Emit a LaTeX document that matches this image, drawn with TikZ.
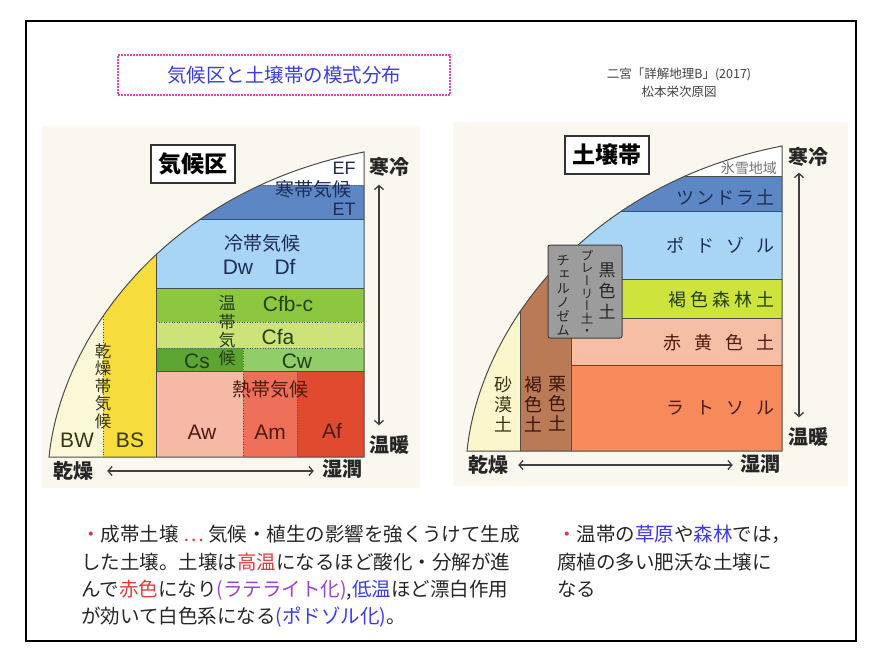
\documentclass[tikz,border=0pt]{standalone}
\usepackage{fontspec}
\setmainfont{Liberation Sans}
\newfontfamily\jp{Noto Sans CJK JP}
\newfontfamily\jpv[RawFeature=+vert]{Noto Sans CJK JP}
\usetikzlibrary{arrows.meta}

\definecolor{paper}{RGB}{250,248,238}
\definecolor{etblue}{RGB}{92,134,196}
\definecolor{dblue}{RGB}{168,212,245}
\definecolor{cfbgreen}{RGB}{141,198,63}
\definecolor{cfagreen}{RGB}{206,226,122}
\definecolor{csgreen}{RGB}{92,165,50}
\definecolor{cwgreen}{RGB}{145,205,105}
\definecolor{awpink}{RGB}{245,185,165}
\definecolor{amred}{RGB}{238,112,88}
\definecolor{afred}{RGB}{224,74,46}
\definecolor{bsyellow}{RGB}{246,220,60}
\definecolor{bwcream}{RGB}{251,248,215}
\definecolor{limeg}{RGB}{206,228,60}
\definecolor{redyel}{RGB}{245,190,165}
\definecolor{latorange}{RGB}{246,138,90}
\definecolor{chestnut}{RGB}{185,122,85}
\definecolor{sandcr}{RGB}{251,246,204}
\definecolor{chernogray}{RGB}{156,156,156}
\definecolor{titleblue}{RGB}{60,60,225}
\definecolor{boxpink}{RGB}{225,70,180}
\definecolor{navytxt}{RGB}{30,45,85}
\definecolor{greentxt}{RGB}{34,64,15}
\definecolor{maroontxt}{RGB}{80,26,18}
\definecolor{olivetxt}{RGB}{58,53,21}
\definecolor{browntxt}{RGB}{60,22,8}
\definecolor{redtxt}{RGB}{224,58,58}
\definecolor{purpletxt}{RGB}{155,63,208}
\definecolor{bluetxt}{RGB}{58,58,240}

\newcommand{\quadarc}{(0,0) .. controls (12,-118) and (115,-266) .. (315,-305) -- (315,0) -- cycle}

\begin{document}
\begin{tikzpicture}[x=1pt, y=-1pt,
  zone/.style={draw=black!70, line width=0.8pt},
  subzone/.style={draw=black!65, line width=1pt, dash pattern=on 1pt off 1.6pt},
  quadline/.style={draw=black!70, line width=1pt},
  lbl/.style={inner sep=0pt, font=\fontsize{21}{21}\selectfont},
  jlbl/.style={inner sep=0pt, font=\jp\fontsize{19}{19}\selectfont},
  vlbl/.style={inner sep=0pt, align=center},
  axislbl/.style={inner sep=0pt, text=black!85, font=\jp\bfseries\fontsize{20}{20}\selectfont},
  headbox/.style={draw=black!80, line width=1.6pt, fill=white, inner sep=0pt,
    minimum width=84pt, minimum height=38pt, font=\jp\bfseries\fontsize{23}{23}\selectfont},
  soillbl/.style={inner sep=0pt, anchor=east, font=\jp\fontsize{18}{18}\selectfont},
  biarrow/.style={{Straight Barb[length=4pt,width=9pt]}-{Straight Barb[length=4pt,width=9pt]},
    draw=black!75, line width=1.3pt},
  para/.style={inner sep=0pt, anchor=north west, align=left, text=black!85,
    font=\jp\fontsize{19.5}{27.4}\selectfont}
]
  \useasboundingbox (0,0) rectangle (884,670);
  % moldura
  \draw[line width=2pt] (26,21) rectangle (856,641);
  \fill[paper] (42,126) rectangle (420,488);
  \fill[paper] (453,122) rectangle (848,486);
  % titulo
  \node[draw=boxpink, line width=1.6pt, dash pattern=on 1.6pt off 1.4pt,
    minimum width=332pt, minimum height=40pt, inner sep=0pt, text=titleblue,
    font=\jp\fontsize{19.5}{19.5}\selectfont] (title) at (284,75) {気候区と土壌帯の模式分布};
  \node[align=center, inner sep=0pt, text=black!75,
    font=\jp\fontsize{12.5}{18}\selectfont] (source) at (679,83) {二宮「詳解地理B」(2017)\\松本栄次原図};

  % climas
  \begin{scope}
    \clip[shift={(49,457)}] \quadarc;
    \fill[bwcream] (40,140) rectangle (103,460);
    \fill[bsyellow] (103,140) rectangle (156,460);
    \fill[white] (156,140) rectangle (370,185);
    \fill[etblue] (156,185) rectangle (370,219);
    \fill[dblue] (156,219) rectangle (370,288);
    \fill[cfbgreen] (156,288) rectangle (370,322);
    \fill[cfagreen] (156,322) rectangle (370,348);
    \fill[csgreen] (156,348) rectangle (243,371);
    \fill[cwgreen] (243,348) rectangle (370,371);
    \fill[awpink] (156,371) rectangle (243,460);
    \fill[amred] (243,371) rectangle (297,460);
    \fill[afred] (297,371) rectangle (370,460);
    \draw[subzone] (103,280) -- (103,457);
    \draw[zone] (156,240) -- (156,457);
    \draw[subzone] (156,185) -- (364,185);
    \draw[zone] (156,219) -- (364,219);
    \draw[zone] (156,288) -- (364,288);
    \draw[subzone] (156,322) -- (364,322);
    \draw[subzone] (156,348) -- (364,348);
    \draw[subzone] (243,348) -- (243,457);
    \draw[subzone] (297,371) -- (297,457);
    \draw[zone] (156,371) -- (364,371);
  \end{scope}
  \draw[quadline, shift={(49,457)}] \quadarc;

  \node[headbox] (climhead) at (193,164) {気候区};
  \node[lbl, text=navytxt, font=\fontsize{18}{18}\selectfont] (ef) at (344,168) {EF};
  \node[jlbl, text=navytxt] (polar) at (313,189) {寒帯気候};
  \node[lbl, text=navytxt, font=\fontsize{18}{18}\selectfont] (et) at (344,209) {ET};
  \node[jlbl, text=navytxt] (subarctic) at (262,243) {冷帯気候};
  \node[lbl, text=navytxt] (dw) at (238,267) {Dw};
  \node[lbl, text=navytxt] (df) at (285,267) {Df};
  \node[lbl, text=greentxt] (cfbc) at (288,304) {Cfb-c};
  \node[lbl, text=greentxt] (cfa) at (278,337) {Cfa};
  \node[lbl, text=greentxt] (cs) at (197,361) {Cs};
  \node[lbl, text=greentxt] (cw) at (297,361) {Cw};
  \node[vlbl, text=greentxt, font=\jp\fontsize{17}{18.3}\selectfont] (temperate) at (227,331) {温\\帯\\気\\候};
  \node[jlbl, text=maroontxt] (tropical) at (270,389) {熱帯気候};
  \node[lbl, text=maroontxt] (aw) at (202,432) {Aw};
  \node[lbl, text=maroontxt] (am) at (270,432) {Am};
  \node[lbl, text=maroontxt] (af) at (332,431) {Af};
  \node[lbl, text=olivetxt] (bw) at (77,440) {BW};
  \node[lbl, text=olivetxt] (bs) at (130,440) {BS};
  \node[vlbl, text=olivetxt, font=\jp\fontsize{16.5}{17.5}\selectfont] (arid) at (103,386) {乾\\燥\\帯\\気\\候};

  % eixos
  \node[axislbl] (coldL) at (389,167) {寒冷};
  \node[axislbl] (warmL) at (389,445) {温暖};
  \node[axislbl] (dryL) at (73,471) {乾燥};
  \node[axislbl] (wetL) at (342,469) {湿潤};
  \draw[biarrow] ([xshift=-10pt,yshift=-8pt]coldL.south) -- ([xshift=-10pt,yshift=10pt]warmL.north);
  \draw[biarrow] ([xshift=14pt]dryL.east) -- ([xshift=-8pt]dryL.east -| wetL.west);

  % solos
  \begin{scope}
    \clip[shift={(467,451)}] \quadarc;
    \fill[white] (460,130) rectangle (790,176);
    \fill[etblue] (460,176) rectangle (790,211);
    \fill[dblue] (460,211) rectangle (790,279);
    \fill[limeg] (460,279) rectangle (790,318);
    \fill[redyel] (460,318) rectangle (790,365);
    \fill[latorange] (460,365) rectangle (790,460);
    \fill[chestnut] (520,130) rectangle (571,460);
    \fill[sandcr] (460,130) rectangle (520,460);
    \draw[zone] (460,176) -- (782,176);
    \draw[zone] (460,211) -- (782,211);
    \draw[zone] (600,279) -- (782,279);
    \draw[zone] (571,318) -- (782,318);
    \draw[zone] (571,365) -- (782,365);
    \draw[zone] (520,250) -- (520,451);
    \draw[zone] (571,250) -- (571,451);
  \end{scope}
  \draw[quadline, shift={(467,451)}] \quadarc;

  \node[draw=black!75, line width=1pt, fill=chernogray, rounded corners=2pt,
    minimum width=74pt, minimum height=93pt, inner sep=0pt] (chernobox) at (585,291.5) {};
  \node[vlbl, text=black!85, font=\jp\fontsize{17}{21}\selectfont] (blacksoil) at (607,291) {黒\\色\\土};
  \node[vlbl, text=black!85, font=\jpv\fontsize{12.5}{12.6}\selectfont] (prairie) at (587,293) {プ\\レ\\ー\\リ\\ー\\土\\・};
  \node[vlbl, text=black!85, font=\jpv\fontsize{13.5}{14}\selectfont] (chernozem) at (563,296) {チ\\ェ\\ル\\ノ\\ゼ\\ム};

  \node[headbox] (soilhead) at (607,155) {土壌帯};
  \node[soillbl, text=black!55, font=\jp\fontsize{14}{14}\selectfont] (icecap) at (777,168) {氷雪地域};
  \node[soillbl, text=navytxt] (tundra) at (775,197) {ツ\hspace{2pt}ン\hspace{2pt}ド\hspace{2pt}ラ\hspace{2pt}土};
  \node[soillbl, text=navytxt] (podzol) at (775,245) {ポ\hspace{12pt}ド\hspace{12pt}ゾ\hspace{12pt}ル};
  \node[soillbl, text=greentxt] (brownforest) at (775,300) {褐\hspace{4pt}色\hspace{4pt}森\hspace{4pt}林\hspace{4pt}土};
  \node[soillbl, text=maroontxt] (redyellow) at (775,343) {赤\hspace{13pt}黄\hspace{13pt}色\hspace{13pt}土};
  \node[soillbl, text=maroontxt] (latosol) at (775,408) {ラ\hspace{12pt}ト\hspace{12pt}ソ\hspace{12pt}ル};
  \node[vlbl, text=olivetxt, font=\jp\fontsize{18}{20}\selectfont] (desert) at (503,404) {砂\\漠\\土};
  \node[vlbl, text=browntxt, font=\jp\fontsize{18}{20}\selectfont] (brownsoil) at (533,404) {褐\\色\\土};
  \node[vlbl, text=browntxt, font=\jp\fontsize{18}{20}\selectfont] (chestnutsoil) at (557,404) {栗\\色\\土};

  % eixos
  \node[axislbl] (coldR) at (808,157) {寒冷};
  \node[axislbl] (warmR) at (808,437) {温暖};
  \node[axislbl] (dryR) at (488,465) {乾燥};
  \node[axislbl] (wetR) at (760,464) {湿潤};
  \draw[biarrow] ([xshift=-9pt,yshift=-6pt]coldR.south) -- ([xshift=-9pt,yshift=10pt]warmR.north);
  \draw[biarrow] ([xshift=10pt]dryR.east) -- ([xshift=-7pt]dryR.east -| wetR.west);

  % texto
  \node[para] (zonalnote) at (81,525) {{\color{redtxt}・}成帯土壌 {\color{redtxt}…} 気候・植生の影響を強くうけて生成\\
    した土壌。土壌は{\color{redtxt}高温}になるほど酸化・分解が進\\
    んで{\color{redtxt}赤色}になり{\color{purpletxt}(ラテライト化)},{\color{bluetxt}低温}ほど漂白作用\\
    が効いて白色系になる{\color{bluetxt}(ポドゾル化)}。};
  \node[para] (temperatenote) at (557,525) {{\color{redtxt}・}温帯の{\color{bluetxt}草原}や{\color{bluetxt}森林}では，\\
    腐植の多い肥沃な土壌に\\
    なる};
\end{tikzpicture}
\end{document}
